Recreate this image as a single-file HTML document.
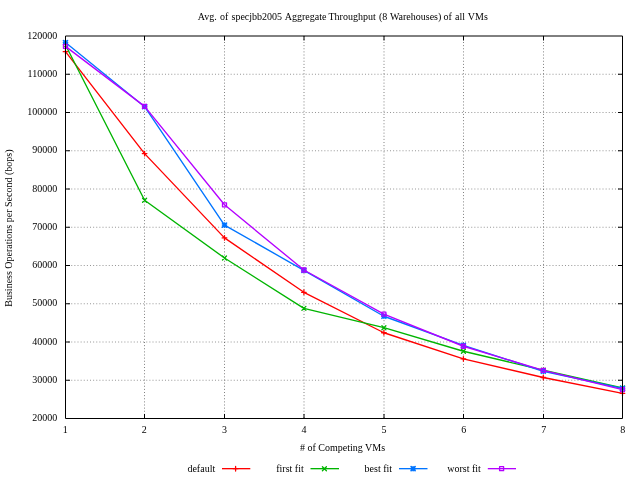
<!DOCTYPE html>
<html><head><meta charset="utf-8"><title>chart</title>
<style>
html,body{margin:0;padding:0;background:#fff;}
body{width:640px;height:480px;overflow:hidden;}
svg{display:block;}
text{font-family:"Liberation Serif",serif;font-size:10px;fill:#000;}
</style></head><body>
<svg width="640" height="480" viewBox="0 0 640 480">
<rect width="640" height="480" fill="#fff"/>
<g stroke="#000" stroke-width="0.42" stroke-dasharray="1 2.125" fill="none"><line x1="65" y1="380.25" x2="622.5" y2="380.25"/><line x1="65" y1="342.00" x2="622.5" y2="342.00"/><line x1="65" y1="303.75" x2="622.5" y2="303.75"/><line x1="65" y1="265.50" x2="622.5" y2="265.50"/><line x1="65" y1="227.25" x2="622.5" y2="227.25"/><line x1="65" y1="189.00" x2="622.5" y2="189.00"/><line x1="65" y1="150.75" x2="622.5" y2="150.75"/><line x1="65" y1="112.50" x2="622.5" y2="112.50"/><line x1="65" y1="74.25" x2="622.5" y2="74.25"/></g>
<g stroke="#000" stroke-width="0.5" stroke-dasharray="1 2.125" fill="none"><line x1="144.50" y1="35.75" x2="144.50" y2="418.5"/><line x1="224.50" y1="35.75" x2="224.50" y2="418.5"/><line x1="304.00" y1="35.75" x2="304.00" y2="418.5"/><line x1="384.00" y1="35.75" x2="384.00" y2="418.5"/><line x1="463.50" y1="35.75" x2="463.50" y2="418.5"/><line x1="543.50" y1="35.75" x2="543.50" y2="418.5"/></g>
<polyline points="65.50,51.70 144.60,153.60 224.50,237.90 303.90,292.30 383.90,332.75 463.40,358.90 543.30,377.50 622.50,393.30" fill="none" stroke="#ff0000" stroke-width="1.35" stroke-linejoin="round" stroke-linecap="butt"/>
<path d="M63.20 51.70H67.80M65.50 49.40V54.00" stroke="#ff0000" stroke-width="1.3" fill="none" stroke-linecap="round" stroke-linejoin="round"/><path d="M142.30 153.60H146.90M144.60 151.30V155.90" stroke="#ff0000" stroke-width="1.3" fill="none" stroke-linecap="round" stroke-linejoin="round"/><path d="M222.20 237.90H226.80M224.50 235.60V240.20" stroke="#ff0000" stroke-width="1.3" fill="none" stroke-linecap="round" stroke-linejoin="round"/><path d="M301.60 292.30H306.20M303.90 290.00V294.60" stroke="#ff0000" stroke-width="1.3" fill="none" stroke-linecap="round" stroke-linejoin="round"/><path d="M381.60 332.75H386.20M383.90 330.45V335.05" stroke="#ff0000" stroke-width="1.3" fill="none" stroke-linecap="round" stroke-linejoin="round"/><path d="M461.10 358.90H465.70M463.40 356.60V361.20" stroke="#ff0000" stroke-width="1.3" fill="none" stroke-linecap="round" stroke-linejoin="round"/><path d="M541.00 377.50H545.60M543.30 375.20V379.80" stroke="#ff0000" stroke-width="1.3" fill="none" stroke-linecap="round" stroke-linejoin="round"/><path d="M620.20 393.30H624.80M622.50 391.00V395.60" stroke="#ff0000" stroke-width="1.3" fill="none" stroke-linecap="round" stroke-linejoin="round"/>
<polyline points="65.50,45.00 144.60,200.20 224.50,258.00 303.90,308.40 383.90,327.70 463.40,351.25 543.30,370.20 622.50,388.00" fill="none" stroke="#00b400" stroke-width="1.35" stroke-linejoin="round" stroke-linecap="butt"/>
<path d="M63.50 43.00L67.50 47.00M63.50 47.00L67.50 43.00" stroke="#00b400" stroke-width="1.3" fill="none" stroke-linecap="round" stroke-linejoin="round"/><path d="M142.60 198.20L146.60 202.20M142.60 202.20L146.60 198.20" stroke="#00b400" stroke-width="1.3" fill="none" stroke-linecap="round" stroke-linejoin="round"/><path d="M222.50 256.00L226.50 260.00M222.50 260.00L226.50 256.00" stroke="#00b400" stroke-width="1.3" fill="none" stroke-linecap="round" stroke-linejoin="round"/><path d="M301.90 306.40L305.90 310.40M301.90 310.40L305.90 306.40" stroke="#00b400" stroke-width="1.3" fill="none" stroke-linecap="round" stroke-linejoin="round"/><path d="M381.90 325.70L385.90 329.70M381.90 329.70L385.90 325.70" stroke="#00b400" stroke-width="1.3" fill="none" stroke-linecap="round" stroke-linejoin="round"/><path d="M461.40 349.25L465.40 353.25M461.40 353.25L465.40 349.25" stroke="#00b400" stroke-width="1.3" fill="none" stroke-linecap="round" stroke-linejoin="round"/><path d="M541.30 368.20L545.30 372.20M541.30 372.20L545.30 368.20" stroke="#00b400" stroke-width="1.3" fill="none" stroke-linecap="round" stroke-linejoin="round"/><path d="M620.50 386.00L624.50 390.00M620.50 390.00L624.50 386.00" stroke="#00b400" stroke-width="1.3" fill="none" stroke-linecap="round" stroke-linejoin="round"/>
<polyline points="65.50,42.60 144.60,106.70 224.50,225.10 303.90,270.30 383.90,316.25 463.40,345.40 543.30,371.25 622.50,388.30" fill="none" stroke="#0074ff" stroke-width="1.35" stroke-linejoin="round" stroke-linecap="butt"/>
<path d="M63.50 42.60H67.50M65.50 40.60V44.60M63.50 40.60L67.50 44.60M63.50 44.60L67.50 40.60" stroke="#0074ff" stroke-width="1.65" fill="none" stroke-linecap="round" stroke-linejoin="round"/><path d="M142.60 106.70H146.60M144.60 104.70V108.70M142.60 104.70L146.60 108.70M142.60 108.70L146.60 104.70" stroke="#0074ff" stroke-width="1.65" fill="none" stroke-linecap="round" stroke-linejoin="round"/><path d="M222.50 225.10H226.50M224.50 223.10V227.10M222.50 223.10L226.50 227.10M222.50 227.10L226.50 223.10" stroke="#0074ff" stroke-width="1.65" fill="none" stroke-linecap="round" stroke-linejoin="round"/><path d="M301.90 270.30H305.90M303.90 268.30V272.30M301.90 268.30L305.90 272.30M301.90 272.30L305.90 268.30" stroke="#0074ff" stroke-width="1.65" fill="none" stroke-linecap="round" stroke-linejoin="round"/><path d="M381.90 316.25H385.90M383.90 314.25V318.25M381.90 314.25L385.90 318.25M381.90 318.25L385.90 314.25" stroke="#0074ff" stroke-width="1.65" fill="none" stroke-linecap="round" stroke-linejoin="round"/><path d="M461.40 345.40H465.40M463.40 343.40V347.40M461.40 343.40L465.40 347.40M461.40 347.40L465.40 343.40" stroke="#0074ff" stroke-width="1.65" fill="none" stroke-linecap="round" stroke-linejoin="round"/><path d="M541.30 371.25H545.30M543.30 369.25V373.25M541.30 369.25L545.30 373.25M541.30 373.25L545.30 369.25" stroke="#0074ff" stroke-width="1.65" fill="none" stroke-linecap="round" stroke-linejoin="round"/><path d="M620.50 388.30H624.50M622.50 386.30V390.30M620.50 386.30L624.50 390.30M620.50 390.30L624.50 386.30" stroke="#0074ff" stroke-width="1.65" fill="none" stroke-linecap="round" stroke-linejoin="round"/>
<polyline points="65.50,46.40 144.60,106.40 224.50,204.80 303.90,270.00 383.90,314.20 463.40,346.25 543.30,370.40 622.50,389.60" fill="none" stroke="#b400ff" stroke-width="1.35" stroke-linejoin="round" stroke-linecap="butt"/>
<path d="M63.50 44.40H67.50V48.40H63.50Z" stroke="#b400ff" stroke-width="1.3" fill="none" stroke-linecap="round" stroke-linejoin="round"/><path d="M142.60 104.40H146.60V108.40H142.60Z" stroke="#b400ff" stroke-width="1.3" fill="none" stroke-linecap="round" stroke-linejoin="round"/><path d="M222.50 202.80H226.50V206.80H222.50Z" stroke="#b400ff" stroke-width="1.3" fill="none" stroke-linecap="round" stroke-linejoin="round"/><path d="M301.90 268.00H305.90V272.00H301.90Z" stroke="#b400ff" stroke-width="1.3" fill="none" stroke-linecap="round" stroke-linejoin="round"/><path d="M381.90 312.20H385.90V316.20H381.90Z" stroke="#b400ff" stroke-width="1.3" fill="none" stroke-linecap="round" stroke-linejoin="round"/><path d="M461.40 344.25H465.40V348.25H461.40Z" stroke="#b400ff" stroke-width="1.3" fill="none" stroke-linecap="round" stroke-linejoin="round"/><path d="M541.30 368.40H545.30V372.40H541.30Z" stroke="#b400ff" stroke-width="1.3" fill="none" stroke-linecap="round" stroke-linejoin="round"/><path d="M620.50 387.60H624.50V391.60H620.50Z" stroke="#b400ff" stroke-width="1.3" fill="none" stroke-linecap="round" stroke-linejoin="round"/>
<path d="M65.5 380.25h4.5M622.5 380.25h-4.5M65.5 342.00h4.5M622.5 342.00h-4.5M65.5 303.75h4.5M622.5 303.75h-4.5M65.5 265.50h4.5M622.5 265.50h-4.5M65.5 227.25h4.5M622.5 227.25h-4.5M65.5 189.00h4.5M622.5 189.00h-4.5M65.5 150.75h4.5M622.5 150.75h-4.5M65.5 112.50h4.5M622.5 112.50h-4.5M65.5 74.25h4.5M622.5 74.25h-4.5M144.50 418.5v-4.5M144.50 36v4.5M224.50 418.5v-4.5M224.50 36v4.5M304.00 418.5v-4.5M304.00 36v4.5M384.00 418.5v-4.5M384.00 36v4.5M463.50 418.5v-4.5M463.50 36v4.5M543.50 418.5v-4.5M543.50 36v4.5" stroke="#000" stroke-width="1" fill="none"/>
<path d="M65.5 36H622.5V418.5H65.5Z" stroke="#000" stroke-width="1" fill="none"/>
<g style="filter:grayscale(1)">
<text x="57.2" y="421" text-anchor="end">20000</text>
<text x="57.2" y="383" text-anchor="end">30000</text>
<text x="57.2" y="345" text-anchor="end">40000</text>
<text x="57.2" y="306" text-anchor="end">50000</text>
<text x="57.2" y="268" text-anchor="end">60000</text>
<text x="57.2" y="230" text-anchor="end">70000</text>
<text x="57.2" y="192" text-anchor="end">80000</text>
<text x="57.2" y="153" text-anchor="end">90000</text>
<text x="57.2" y="115" text-anchor="end">100000</text>
<text x="57.2" y="77" text-anchor="end">110000</text>
<text x="57.2" y="39" text-anchor="end">120000</text>
<text x="65.20" y="433" text-anchor="middle">1</text>
<text x="144.29" y="433" text-anchor="middle">2</text>
<text x="224.38" y="433" text-anchor="middle">3</text>
<text x="303.97" y="433" text-anchor="middle">4</text>
<text x="384.06" y="433" text-anchor="middle">5</text>
<text x="463.65" y="433" text-anchor="middle">6</text>
<text x="543.74" y="433" text-anchor="middle">7</text>
<text x="622.83" y="433" text-anchor="middle">8</text>
<text y="20.4"><tspan x="197.86">Avg.</tspan><tspan x="219.88">of</tspan><tspan x="231.5">specjbb2005</tspan><tspan x="284.8">Aggregate</tspan><tspan x="328.5">Throughput</tspan><tspan x="379.0">(8</tspan><tspan x="389.9">Warehouses)</tspan><tspan x="443.55">of</tspan><tspan x="455.05">all</tspan><tspan x="467.8">VMs</tspan></text>
<text x="342.5" y="450.8" text-anchor="middle"># of Competing VMs</text>
<text transform="translate(11.6 228.1) rotate(-90)" text-anchor="middle">Business Operations per Second (bops)</text>
</g>
<g style="filter:grayscale(1)"><text x="215.2" y="471.6" text-anchor="end">default</text></g>
<line x1="222" y1="468.65" x2="250.3" y2="468.65" stroke="#ff0000" stroke-width="1.35"/>
<path d="M233.30 468.70H237.90M235.60 466.40V471.00" stroke="#ff0000" stroke-width="1.3" fill="none" stroke-linecap="round" stroke-linejoin="round"/>
<g style="filter:grayscale(1)"><text x="303.7" y="471.6" text-anchor="end">first fit</text></g>
<line x1="310.5" y1="468.65" x2="339" y2="468.65" stroke="#00b400" stroke-width="1.35"/>
<path d="M322.40 466.70L326.40 470.70M322.40 470.70L326.40 466.70" stroke="#00b400" stroke-width="1.3" fill="none" stroke-linecap="round" stroke-linejoin="round"/>
<g style="filter:grayscale(1)"><text x="392.1" y="471.6" text-anchor="end">best fit</text></g>
<line x1="399" y1="468.65" x2="427.5" y2="468.65" stroke="#0074ff" stroke-width="1.35"/>
<path d="M411.10 468.70H415.10M413.10 466.70V470.70M411.10 466.70L415.10 470.70M411.10 470.70L415.10 466.70" stroke="#0074ff" stroke-width="1.65" fill="none" stroke-linecap="round" stroke-linejoin="round"/>
<g style="filter:grayscale(1)"><text x="480.8" y="471.6" text-anchor="end">worst fit</text></g>
<line x1="487.8" y1="468.65" x2="516" y2="468.65" stroke="#b400ff" stroke-width="1.35"/>
<path d="M499.60 466.70H503.60V470.70H499.60Z" stroke="#b400ff" stroke-width="1.3" fill="none" stroke-linecap="round" stroke-linejoin="round"/>
</svg></body></html>
